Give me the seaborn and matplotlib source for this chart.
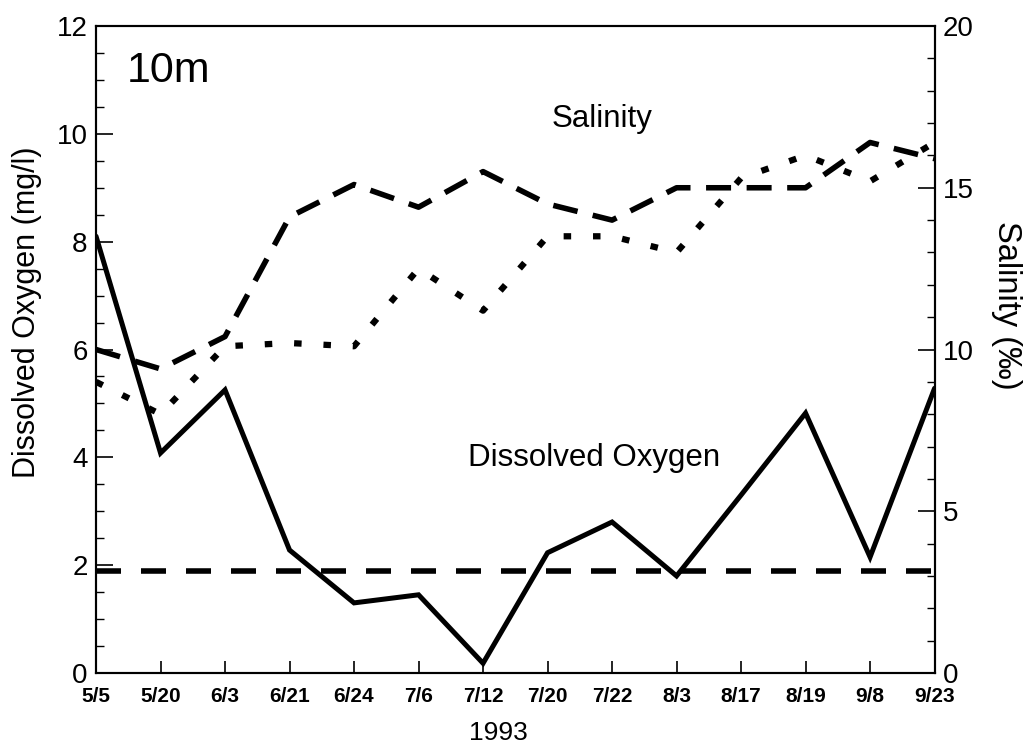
import matplotlib
matplotlib.use("Agg")
import matplotlib.pyplot as plt
import seaborn as sns
import pandas as pd
import numpy as np
from matplotlib.ticker import MultipleLocator

dates = ["5/5", "5/20", "6/3", "6/21", "6/24", "7/6", "7/12", "7/20",
         "7/22", "8/3", "8/17", "8/19", "9/8", "9/23"]
dissolved_oxygen = [8.1, 4.08, 5.25, 2.28, 1.3, 1.45, 0.18, 2.23,
                    2.8, 1.8, 3.3, 4.82, 2.15, 5.28]
salinity_dashed = [10.0, 9.4, 10.4, 14.1, 15.1, 14.4, 15.5, 14.5,
                   14.0, 15.0, 15.0, 15.0, 16.4, 15.9]
salinity_dotted = [9.0, 8.0, 10.1, 10.2, 10.1, 12.5, 11.2, 13.5,
                   13.5, 13.0, 15.3, 16.0, 15.2, 16.4]
do_threshold = [1.9] * len(dates)

sns.set_theme(style="white")
plt.rcParams["font.family"] = ["Liberation Sans", "DejaVu Sans"]
plt.rcParams["text.color"] = "black"
plt.rcParams["axes.labelcolor"] = "black"
plt.rcParams["xtick.color"] = "black"
plt.rcParams["ytick.color"] = "black"

df = pd.DataFrame({
    "pos": np.arange(len(dates)),
    "do": dissolved_oxygen,
    "sal1": salinity_dashed,
    "sal2": salinity_dotted,
    "thr": do_threshold,
})

fig = plt.figure(figsize=(10.27, 7.5), dpi=100)
ax = fig.add_axes([0.0935, 0.1027, 0.8165, 0.8626])
ax2 = ax.twinx()

sns.lineplot(data=df, x="pos", y="do", ax=ax, color="black", linewidth=3.6,
             solid_joinstyle="miter")
sns.lineplot(data=df, x="pos", y="thr", ax=ax, color="black", linewidth=4.0,
             linestyle=(0, (4.5, 3.6)))
sns.lineplot(data=df, x="pos", y="sal1", ax=ax2, color="black", linewidth=4.0,
             linestyle=(0, (4.5, 2.8)))
sns.lineplot(data=df, x="pos", y="sal2", ax=ax2, color="black", linewidth=4.5,
             linestyle=(0, (1.2, 3.5)))

ax.set_xlim(0, len(dates) - 1)
ax.set_ylim(0, 12)
ax2.set_ylim(0, 20)

ax.set_xticks(df["pos"])
ax.set_xticklabels(dates, fontsize=15, fontweight="bold")
ax.yaxis.set_major_locator(MultipleLocator(2))
ax.yaxis.set_minor_locator(MultipleLocator(0.5))
ax2.yaxis.set_major_locator(MultipleLocator(5))
ax2.yaxis.set_minor_locator(MultipleLocator(1))

ax.tick_params(axis="y", which="major", direction="in", length=12, width=1.2,
               labelsize=20, pad=6, left=True, right=False)
ax.tick_params(axis="y", which="minor", direction="in", length=6, width=1.0,
               left=True, right=False)
ax.tick_params(axis="x", which="major", direction="in", length=9, width=1.2,
               pad=10, bottom=True, top=False)
ax2.tick_params(axis="y", which="major", direction="in", length=12, width=1.2,
                labelsize=20, pad=6, right=True, left=False)
ax2.tick_params(axis="y", which="minor", direction="in", length=6, width=1.0,
                right=True, left=False)

for a in (ax, ax2):
    for s in a.spines.values():
        s.set_color("black")
        s.set_linewidth(1.5)
        s.set_visible(True)

ax.set_xlabel("1993", fontsize=19)
ax.xaxis.set_label_coords(0.48, -0.075)
ax.set_ylabel("Dissolved Oxygen (mg/l)", fontsize=22)
ax.yaxis.set_label_coords(-0.064, 0.558)
ax2.set_ylabel("Salinity (‰)", fontsize=23.5, rotation=270)
ax2.yaxis.set_label_coords(1.104, 0.569)
ax.grid(False)
ax2.grid(False)

ax.text(0.037, 0.93, "10m", transform=ax.transAxes, fontsize=31,
        ha="left", va="center")
ax.text(0.604, 0.857, "Salinity", transform=ax.transAxes, fontsize=22.5,
        ha="center", va="center")
ax.text(0.594, 0.333, "Dissolved Oxygen", transform=ax.transAxes, fontsize=22.5,
        ha="center", va="center")

fig.savefig("out.png", dpi=100)
